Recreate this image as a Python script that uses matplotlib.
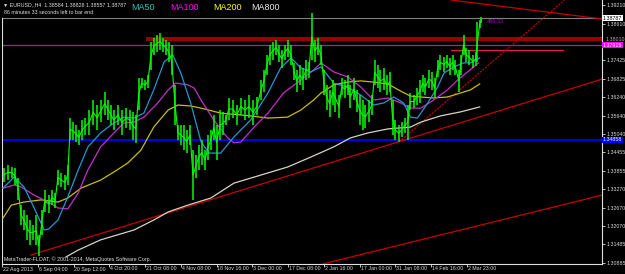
import numpy as np
import matplotlib
matplotlib.use("Agg")
import matplotlib.pyplot as plt
import matplotlib.transforms as mtransforms

plt.rcParams['font.family'] = ['Liberation Sans', 'DejaVu Sans']

# ---------------- data (EURUSD H4, bar index from 22 Aug 2013) ----------------
bar_idx = [3, 10, 17, 23, 28, 33, 38, 43, 48, 54, 59, 64, 69, 74, 81, 87, 92, 97, 102, 109,
           114, 118, 123, 128, 133, 139, 144, 151, 158, 165, 171, 178, 184, 189, 194, 201, 208, 215, 222, 227,
           232, 237, 242, 248, 253, 258, 263, 268, 274, 279, 284, 289, 294, 300, 305, 310, 315, 320, 326, 331,
           336, 341, 346, 352, 357, 362, 367, 372, 378, 383, 388, 393, 400, 407, 414, 421, 428, 435, 442, 449,
           454, 459, 464, 469, 475, 480, 485, 490, 495, 501, 506, 511, 516, 521, 527, 532, 537, 542, 547, 553,
           558, 563, 568, 573, 578, 584, 589, 594, 599, 604, 610, 615, 620, 625, 630, 636, 641, 646, 651, 656,
           662, 667, 672, 677, 682, 688, 693, 698, 703, 708, 714, 719, 724, 729, 734, 740, 745, 750, 755, 760,
           766, 771, 776, 781, 786, 792, 795, 800, 805, 810, 816, 821, 824, 828, 831]
bar_high = [1.3395, 1.3405, 1.3398, 1.3395, 1.3363, 1.3275, 1.3259, 1.3243, 1.3227, 1.3211,
            1.3243, 1.3179, 1.3259, 1.3324, 1.3308, 1.3324, 1.3314, 1.3389, 1.3379, 1.3372,
            1.3405, 1.3556, 1.3543, 1.3534, 1.3517, 1.3550, 1.3556, 1.3582, 1.3614, 1.3598,
            1.3614, 1.3640, 1.3614, 1.3598, 1.3582, 1.3598, 1.3582, 1.3588, 1.3582, 1.3576,
            1.3566, 1.3685, 1.3685, 1.3679, 1.3695, 1.3801, 1.3814, 1.3824, 1.3831, 1.3814,
            1.3808, 1.3801, 1.3792, 1.3663, 1.3534, 1.3534, 1.3534, 1.3517, 1.3534, 1.3453,
            1.3437, 1.3469, 1.3485, 1.3453, 1.3501, 1.3517, 1.3566, 1.3534, 1.3582, 1.3576,
            1.3566, 1.3621, 1.3614, 1.3598, 1.3621, 1.3614, 1.3630, 1.3614, 1.3624, 1.3679,
            1.3711, 1.3760, 1.3792, 1.3801, 1.3808, 1.3792, 1.3776, 1.3792, 1.3808, 1.3792,
            1.3734, 1.3711, 1.3727, 1.3718, 1.3743, 1.3737, 1.3895, 1.3808, 1.3814, 1.3792,
            1.3711, 1.3663, 1.3647, 1.3679, 1.3663, 1.3630, 1.3685, 1.3679, 1.3695, 1.3663,
            1.3685, 1.3647, 1.3630, 1.3614, 1.3598, 1.3614, 1.3630, 1.3743, 1.3727, 1.3711,
            1.3718, 1.3695, 1.3705, 1.3614, 1.3550, 1.3534, 1.3543, 1.3556, 1.3598, 1.3637,
            1.3630, 1.3653, 1.3679, 1.3695, 1.3685, 1.3711, 1.3705, 1.3685, 1.3743, 1.3760,
            1.3753, 1.3760, 1.3750, 1.3760, 1.3743, 1.3711, 1.3760, 1.3824, 1.3782, 1.3776,
            1.3760, 1.3769, 1.3866, 1.3872, 1.3882]
bar_low = [1.3350, 1.3356, 1.3363, 1.3340, 1.3292, 1.3211, 1.3195, 1.3163, 1.3146, 1.3163,
           1.3146, 1.3111, 1.3179, 1.3253, 1.3250, 1.3275, 1.3266, 1.3340, 1.3334, 1.3324,
           1.3340, 1.3485, 1.3485, 1.3479, 1.3469, 1.3485, 1.3501, 1.3501, 1.3534, 1.3517,
           1.3543, 1.3566, 1.3550, 1.3534, 1.3517, 1.3534, 1.3501, 1.3524, 1.3517, 1.3485,
           1.3476, 1.3582, 1.3653, 1.3647, 1.3653, 1.3711, 1.3760, 1.3769, 1.3776, 1.3769,
           1.3760, 1.3737, 1.3695, 1.3534, 1.3485, 1.3469, 1.3453, 1.3443, 1.3469, 1.3292,
           1.3363, 1.3389, 1.3405, 1.3389, 1.3421, 1.3453, 1.3485, 1.3421, 1.3485, 1.3501,
           1.3534, 1.3550, 1.3556, 1.3534, 1.3566, 1.3550, 1.3556, 1.3534, 1.3566, 1.3614,
           1.3640, 1.3695, 1.3727, 1.3743, 1.3760, 1.3737, 1.3718, 1.3743, 1.3753, 1.3727,
           1.3679, 1.3640, 1.3663, 1.3647, 1.3679, 1.3685, 1.3743, 1.3737, 1.3760, 1.3727,
           1.3630, 1.3582, 1.3559, 1.3598, 1.3576, 1.3556, 1.3630, 1.3621, 1.3630, 1.3588,
           1.3614, 1.3576, 1.3534, 1.3517, 1.3524, 1.3543, 1.3566, 1.3663, 1.3653, 1.3640,
           1.3647, 1.3630, 1.3640, 1.3501, 1.3485, 1.3479, 1.3495, 1.3508, 1.3485, 1.3582,
           1.3588, 1.3598, 1.3605, 1.3640, 1.3630, 1.3653, 1.3647, 1.3621, 1.3689, 1.3711,
           1.3705, 1.3718, 1.3695, 1.3711, 1.3695, 1.3640, 1.3695, 1.3760, 1.3737, 1.3727,
           1.3718, 1.3724, 1.3737, 1.3847, 1.3863]

ma50_x = [2, 21, 38, 55, 73, 81, 97, 114, 132, 149, 171, 189, 211, 229, 246, 263, 281, 296, 310, 327,
          345, 359, 379, 402, 431, 461, 483, 501, 518, 535, 553, 575, 599, 622, 644, 662, 679, 696, 708, 720,
          738, 755, 766, 783, 800, 812, 828]
ma50_y = [1.3330, 1.3366, 1.3334, 1.3269, 1.3195, 1.3198, 1.3227, 1.3301, 1.3388, 1.3463,
          1.3508, 1.3534, 1.3559, 1.3556, 1.3572, 1.3647, 1.3737, 1.3760, 1.3701, 1.3605,
          1.3479, 1.3443, 1.3443, 1.3495, 1.3550, 1.3637, 1.3718, 1.3750, 1.3718, 1.3705,
          1.3721, 1.3669, 1.3656, 1.3630, 1.3598, 1.3605, 1.3624, 1.3605, 1.3559, 1.3556,
          1.3605, 1.3656, 1.3701, 1.3721, 1.3734, 1.3734, 1.3750]

ma100_x = [2, 21, 33, 55, 80, 97, 114, 132, 149, 171, 194, 211, 229, 246, 270, 288, 301, 322, 333, 345,
           367, 391, 402, 414, 437, 461, 488, 518, 540, 553, 575, 599, 622, 644, 669, 691, 708, 726, 748, 772,
           790, 807, 826]
ma100_y = [1.3330, 1.3340, 1.3334, 1.3308, 1.3285, 1.3266, 1.3263, 1.3314, 1.3389, 1.3463,
           1.3508, 1.3540, 1.3543, 1.3559, 1.3605, 1.3647, 1.3669, 1.3663, 1.3653, 1.3614,
           1.3550, 1.3492, 1.3476, 1.3479, 1.3527, 1.3572, 1.3637, 1.3679, 1.3711, 1.3734,
           1.3705, 1.3689, 1.3656, 1.3614, 1.3621, 1.3605, 1.3588, 1.3588, 1.3614, 1.3647,
           1.3679, 1.3705, 1.3734]

ma200_x = [2, 16, 38, 68, 97, 114, 137, 171, 194, 218, 241, 263, 288, 305, 327, 345, 379, 431, 461, 495,
           518, 540, 553, 575, 599, 622, 644, 669, 691, 708, 726, 748, 772, 795, 812, 828]
ma200_y = [1.3234, 1.3275, 1.3285, 1.3292, 1.3285, 1.3298, 1.3330, 1.3356, 1.3382, 1.3411,
           1.3453, 1.3527, 1.3582, 1.3598, 1.3595, 1.3588, 1.3572, 1.3563, 1.3556, 1.3559,
           1.3582, 1.3614, 1.3637, 1.3663, 1.3672, 1.3676, 1.3672, 1.3666, 1.3643, 1.3627,
           1.3624, 1.3621, 1.3624, 1.3637, 1.3647, 1.3666]

ma800_x = [111, 132, 171, 229, 263, 288, 322, 362, 402, 461, 495, 535, 575, 604, 634, 669, 708, 726, 760,
           795, 828]
ma800_y = [1.3108, 1.3130, 1.3163, 1.3195, 1.3227, 1.3253, 1.3275, 1.3298, 1.3346, 1.3379,
           1.3398, 1.3430, 1.3463, 1.3492, 1.3508, 1.3521, 1.3527, 1.3543, 1.3563, 1.3576, 1.3592]

# trend lines: (x0, y0, x1, y1)
trend_main = [50, 1.3114, 1041, 1.36821]
trend_steep = [688, 1.3479, 975, 1.3937]
trend_low = [556, 1.30851, 1041, 1.33077]
trend_top = [778, 1.3937, 1041, 1.38757]

bid_price = 1.38787
level_blue = 1.34858
level_magenta = 1.37915
band_bottom, band_top, band_start = 1.3805, 1.3819, 249
seg_level, seg_start, seg_end = 1.3776, 778, 972

price_ticks = [1.39210, 1.38610, 1.38010, 1.37425, 1.36825, 1.36240, 1.35640, 1.35040,
               1.34455, 1.33855, 1.33270, 1.32670, 1.32070, 1.31485, 1.30885]
date_ticks = [0, 62, 124, 186, 248, 310, 372, 434, 496, 558, 620, 682, 744, 806]
date_labels = ["22 Aug 2013", "6 Sep 04:00", "20 Sep 12:00", "4 Oct 20:00", "21 Oct 08:00",
               "4 Nov 08:00", "18 Nov 16:00", "3 Dec 00:00", "17 Dec 08:00", "2 Jan 16:00",
               "17 Jan 00:00", "31 Jan 08:00", "14 Feb 16:00", "2 Mar 23:00"]

y_min, y_max = 1.30851, 1.3937
x_min, x_max = 0, 1040

W, H = 625, 274
fig = plt.figure(figsize=(W / 100, H / 100), dpi=100, facecolor='black')
ax = fig.add_axes([2 / W, 10 / H, 600 / W, 264 / H], facecolor='black')
ax.set_xlim(x_min, x_max)
ax.set_ylim(y_min, y_max)

# levels & objects
ax.axhline(level_blue, color='#0000ff', lw=1.3, zorder=2)
ax.axhline(level_magenta, color='#a020a0', lw=0.9, zorder=2)
ax.axhline(bid_price, color='#808080', lw=0.8, zorder=2)
ax.fill_between([band_start, x_max], band_bottom, band_top, color='#9a0000', lw=0, zorder=2)
ax.plot([seg_start, seg_end], [seg_level, seg_level], color='#e0203c', lw=0.9, zorder=2)
for t in (trend_main, trend_low, trend_top):
    ax.plot([t[0], t[2]], [t[1], t[3]], color='#c80000', lw=0.9, zorder=3)
ax.plot([trend_steep[0], trend_steep[2]], [trend_steep[1], trend_steep[3]],
        color='#c80000', lw=0.8, ls=(0, (2, 1)), zorder=3)

# moving averages
ax.plot(ma800_x, ma800_y, color='#d8d2c4', lw=0.9, zorder=4)
ax.plot(ma200_x, ma200_y, color='#c8bc10', lw=0.9, zorder=4)
ax.plot(ma100_x, ma100_y, color='#c030c8', lw=0.9, zorder=4)
ax.plot(ma50_x, ma50_y, color='#2098d0', lw=0.9, zorder=4)

# price bars
bx = np.asarray(bar_idx, float)
hi = np.asarray(bar_high)
lo = np.asarray(bar_low)
ax.vlines(bx, lo, hi, color='#00ff00', lw=1.1, zorder=5)
ax.plot(bx, (hi + lo) / 2, color='#00ff00', lw=0.8, zorder=5)

ax.text(840, 1.3869, "486:33", color='#a000c0', fontsize=4, va='center', ha='left', zorder=6)

# axes styling
for s in ('top', 'left'):
    ax.spines[s].set_visible(False)
for s in ('right', 'bottom'):
    ax.spines[s].set_color('#e0e0e0')
    ax.spines[s].set_linewidth(0.8)
ax.axvline(x_min, ymin=0, ymax=(bid_price - y_min) / (y_max - y_min), color='#e0e0e0', lw=0.8)

ax.yaxis.tick_right()
ax.set_yticks(price_ticks)
ytl = [f"{v:.5f}" for v in price_ticks]
ytl[2] = ""   # drawn separately, partly hidden behind the level band
ax.set_yticklabels(ytl)
ax.tick_params(axis='y', colors='#e0e0e0', labelcolor='#d8d8d8', labelsize=3.8, length=2, width=0.6, pad=1)
ax.set_xticks(date_ticks)
ax.set_xticklabels([])
ax.tick_params(axis='x', colors='#e0e0e0', length=2, width=0.6)
trans = mtransforms.blended_transform_factory(ax.transData, fig.transFigure)
for xt, lab in zip(date_ticks, date_labels):
    ax.text(xt + 1.5, 1 - 269 / H, lab, transform=trans, color='#d8d8d8', fontsize=3.8,
            ha='left', va='center', clip_on=False)

ytrans = mtransforms.blended_transform_factory(ax.transAxes, ax.transData)
ax.text(1.0055, price_ticks[2], f"{price_ticks[2]:.5f}", transform=ytrans
        + mtransforms.ScaledTranslation(0, 2.5 / 100, fig.dpi_scale_trans),
        color='#b0b0b0', fontsize=3.8, ha='left', va='center', clip_on=False)

# price boxes on the axis
def box(price, text, bg, fg):
    ax.text(1.0015, price, text, transform=ytrans,
            color=fg, fontsize=3.8, ha='left', va='center', zorder=10, clip_on=False,
            bbox=dict(boxstyle='square,pad=0.15', fc=bg, ec='none'))

box(bid_price, "1.38787", '#ffffff', '#000000')
box(level_magenta, "1.37915", '#ff00ff', '#ffffff')
box(level_blue, "1.34858", '#0000ff', '#ffffff')

# header texts
def ftext(x, y, s, **kw):
    fig.text(x / W, 1 - y / H, s, va='center', ha='left', **kw)

ftext(3, 5, "\u25BC EURUSD,,H4  1.38584 1.38828 1.38557 1.38787", color='#e0e0e0', fontsize=3.8)
ftext(4, 13, "86 minutes 33 seconds left to bar end", color='#e0e0e0', fontsize=3.8)
ftext(131, 8, "MA50", color='#30c0c0', fontsize=6.5)
ftext(170, 8, "MA100", color='#ff00ff', fontsize=6.5)
ftext(213, 8, "MA200", color='#ffff00', fontsize=6.5)
ftext(251, 8, "MA800", color='#e8e8e8', fontsize=6.5)
ftext(4, 259, "MetaTrader-FLOAT, \u00A9 2001-2014, MetaQuotes Software Corp.", color='#e0e0e0', fontsize=3.8)

fig.savefig("out.png", dpi=100, facecolor='black')
